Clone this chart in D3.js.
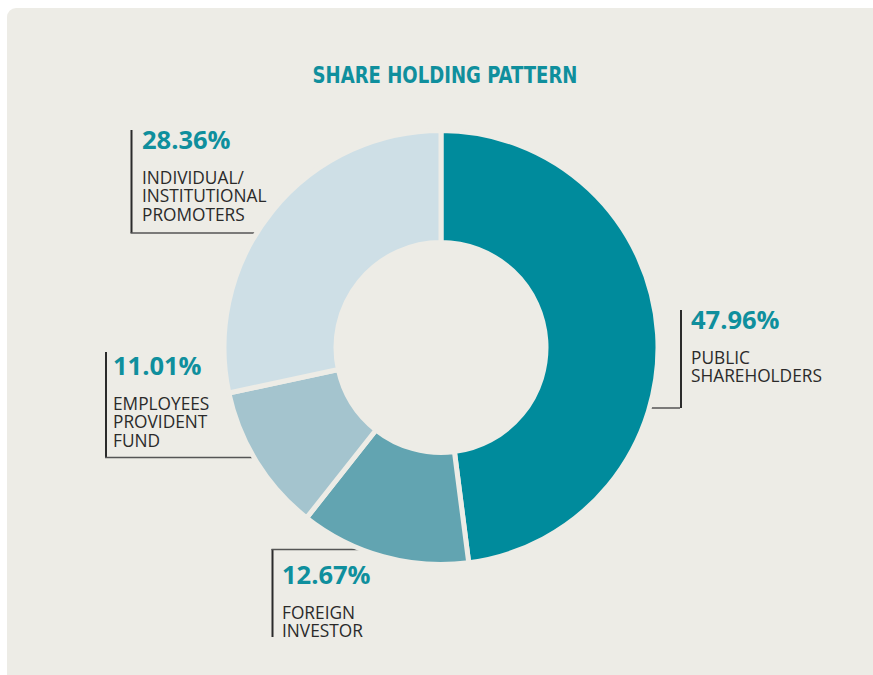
<!DOCTYPE html>
<html lang="en">
<head>
<meta charset="utf-8">
<title>Share Holding Pattern</title>
<script src="https://cdn.jsdelivr.net/npm/d3@7"></script>
<style>
  * { margin: 0; padding: 0; }
  body { background: #fff; width: 873px; height: 675px; overflow: hidden; }
  svg { display: block; }
</style>
</head>
<body>
<div id="chart"></div>
<script>
  const categories = ["PUBLIC SHAREHOLDERS", "FOREIGN INVESTOR", "EMPLOYEES PROVIDENT FUND", "INDIVIDUAL/ INSTITUTIONAL PROMOTERS"];
  const values = [47.96, 12.67, 11.01, 28.36];
  const labelLines = [
    ["PUBLIC", "SHAREHOLDERS"],
    ["FOREIGN", "INVESTOR"],
    ["EMPLOYEES", "PROVIDENT", "FUND"],
    ["INDIVIDUAL/", "INSTITUTIONAL", "PROMOTERS"]
  ];
  const colors = ["#008b9c", "#62a4b1", "#a4c4ce", "#cedfe6"];

  const W = 873, H = 675;
  const bg = "#edece6";
  const teal = "#0f8f9d";

  const svg = d3.select("#chart").append("svg")
      .attr("width", W)
      .attr("height", H);

  // panel
  svg.append("rect")
      .attr("x", 7).attr("y", 8)
      .attr("width", W + 20).attr("height", H + 20)
      .attr("rx", 9)
      .attr("fill", bg);

  svg.append("text")
      .attr("x", 445).attr("y", 82.5)
      .attr("text-anchor", "middle")
      .attr("textLength", 265)
      .attr("lengthAdjust", "spacingAndGlyphs")
      .style("font-family", "'Liberation Sans Narrow', 'DejaVu Sans Condensed', sans-serif")
      .style("font-weight", "bold")
      .style("font-size", "23px")
      .style("fill", teal)
      .text("SHARE HOLDING PATTERN");

  const cx = 441, cy = 347.5, R = 217, r = 105;

  // callout bracket per slice: vertical line x, its top/bottom, horizontal line y and far end, text x, percent baseline
  const callouts = [
    { x: 681, y0: 310, y1: 408, hy: 408, hx: 600, tx: 691, pY: 329 },
    { x: 272.5, y0: 549, y1: 637, hy: 549.5, hx: 400, tx: 282, pY: 584 },
    { x: 106, y0: 352, y1: 457.5, hy: 457.5, hx: 300, tx: 113, pY: 375 },
    { x: 131.5, y0: 130, y1: 233, hy: 233, hx: 300, tx: 142, pY: 149 }
  ];

  const gl = svg.append("g");
  callouts.forEach((c, i) => {
    gl.append("line")
      .attr("x1", c.x).attr("x2", c.x)
      .attr("y1", c.y0).attr("y2", c.y1)
      .attr("stroke", "#2b2b2b").attr("stroke-width", 2);
    gl.append("line")
      .attr("x1", c.x - 1).attr("x2", c.hx)
      .attr("y1", c.hy).attr("y2", c.hy)
      .attr("stroke", "#555").attr("stroke-width", 1.5);
    gl.append("text")
      .attr("x", c.tx).attr("y", c.pY)
      .style("font-family", "'Open Sans', sans-serif")
      .style("font-weight", "bold")
      .style("font-size", "25.5px")
      .style("fill", teal)
      .text(d3.format(".2f")(values[i]) + "%");
    labelLines[i].forEach((t, k) => {
      gl.append("text")
        .attr("x", c.tx).attr("y", c.pY + 34.5 + k * 18.5)
        .style("font-family", "'Open Sans', sans-serif")
        .style("font-size", "17.3px")
        .style("fill", "#2a2a2a")
        .text(t);
    });
  });

  const pie = d3.pie().sort(null).value(d => d);
  const arc = d3.arc().innerRadius(r).outerRadius(R);

  svg.append("g")
      .attr("transform", `translate(${cx},${cy})`)
    .selectAll("path")
    .data(pie(values))
    .join("path")
      .attr("d", arc)
      .attr("fill", (d, i) => colors[i])
      .attr("stroke", bg)
      .attr("stroke-width", 5)
      .attr("stroke-linejoin", "miter");

  // inner hole fill so strokes don't add a ring on the hole edge
  svg.append("circle")
      .attr("cx", cx).attr("cy", cy).attr("r", r)
      .attr("fill", bg);
</script>
</body>
</html>
